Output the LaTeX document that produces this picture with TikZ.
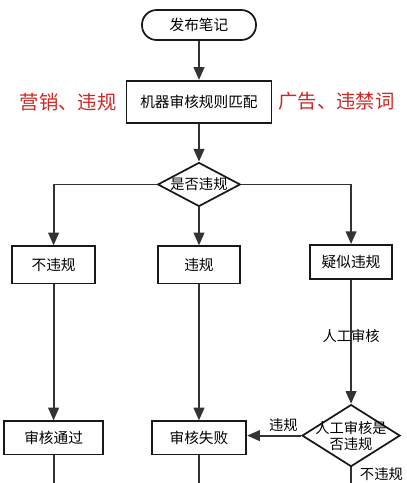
\documentclass[tikz,border=0pt]{standalone}
\usepackage{fontspec}
\setmainfont{Noto Sans CJK SC}
\usepackage{tikz}
\usetikzlibrary{shapes.geometric, arrows.meta, positioning, calc}
\definecolor{tagred}{RGB}{204,40,36}
\tikzstyle{block} = [rectangle, minimum width=62pt, minimum height=28pt, align=center, inner sep=2pt, draw=black!90, line width=1.3pt, fill=white, font=\fontsize{11}{13}\selectfont]
\tikzstyle{startstop} = [block, rounded corners=11pt, minimum width=85.5pt, minimum height=22.5pt]
\tikzstyle{decide} = [diamond, inner sep=0pt, draw=black!90, line width=1.3pt, fill=white]
\tikzstyle{arrow} = [line width=1.4pt, draw=black!80, -{Triangle[length=9.5pt, width=8pt]}]
\tikzstyle{line} = [line width=1.4pt, draw=black!80]
\tikzstyle{redtag} = [text=tagred, font=\fontsize{14.5}{16}\selectfont, inner sep=0pt]
\tikzstyle{edgetext} = [font=\fontsize{10.7}{12}\selectfont, inner sep=2pt]

\begin{document}
\begin{tikzpicture}[every node/.style={font=\fontsize{11}{13}\selectfont}]
  \useasboundingbox (-149.25pt,18.75pt) rectangle (156pt,-343.5pt);
  \node[startstop] (start) {发布笔记};
  \node[block, minimum width=108.75pt, minimum height=31.5pt, below=29.25pt of start] (rule) {机器审核规则匹配};
  \node[redtag, left=6.75pt of rule] (lefttag) {营销、违规};
  \node[redtag, right=4.5pt of rule] (righttag) {广告、违禁词};
  \node[decide, minimum width=62pt, minimum height=33pt, below=28.5pt of rule,
    label={[edgetext]center:是否违规}] (cond) {};
  \node[block, below=28.5pt of cond] (viol) {违规};
  \node[block, left=45.75pt of viol] (ok) {不违规};
  \node[block, minimum width=61.5pt, minimum height=25.5pt, right=51pt of viol, yshift=2.25pt] (susp) {疑似违规};
  \node[block, minimum width=71pt, minimum height=25pt, below=102pt of viol] (fail) {审核失败};
  \node[block, minimum width=74pt, minimum height=25pt, below=102pt of ok] (pass) {审核通过};
  \node[decide, minimum width=73.5pt, minimum height=46.5pt, below=93pt of susp,
    label={[edgetext, align=center]center:人工审核是\\否违规}] (check) {};
  \coordinate (bottom) at (0,-343.5pt);

  \draw[arrow] (start) -- (rule);
  \draw[arrow] (rule) -- (cond);
  \draw[arrow] (cond) -- (viol);
  \draw[arrow] (cond.west) -| (ok);
  \draw[arrow] (cond.east) -| (susp);
  \draw[arrow] (ok) -- (pass);
  \draw[arrow] (viol) -- (fail);
  \draw[arrow] (susp) -- node[edgetext, pos=0.45] {人工审核} (check);
  \draw[arrow] (check.west) -- node[edgetext, above, pos=0.33] {违规} (check.west -| fail.east);
  \draw[line] (pass) -- (pass |- bottom);
  \draw[line] (fail) -- (fail |- bottom);
  \draw[line] (check) -- node[edgetext, right, pos=0.45, xshift=4pt] {不违规} (check |- bottom);
\end{tikzpicture}
\end{document}
